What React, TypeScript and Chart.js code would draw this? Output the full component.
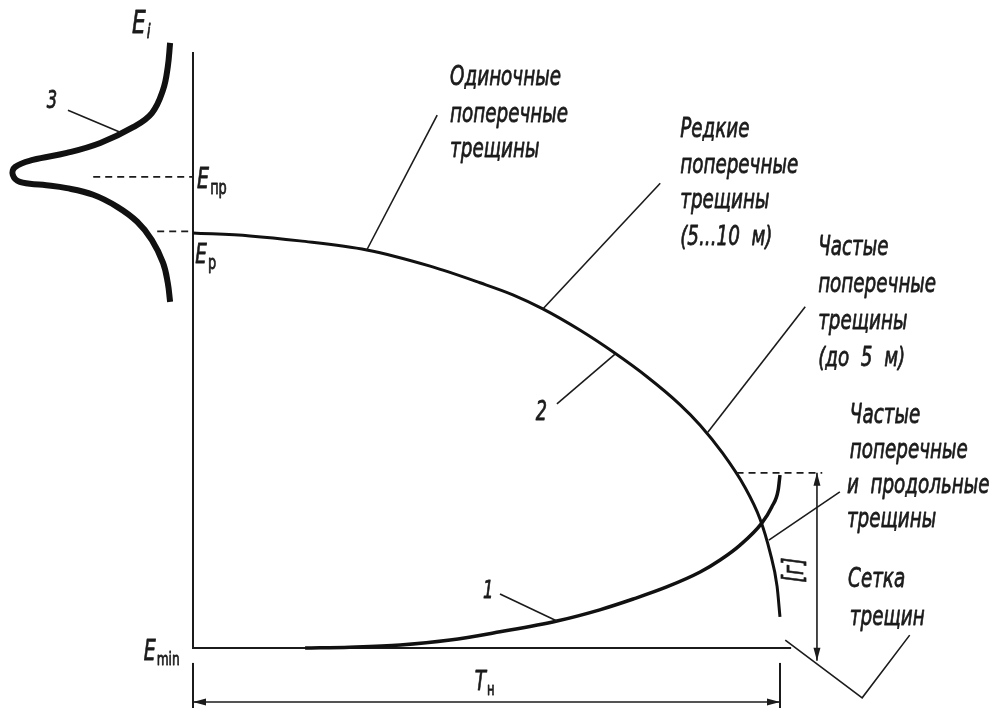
import React, { useEffect, useRef } from "react";
import { Chart, registerables } from "chart.js";

Chart.register(...registerables);

// Units: T in % of T_н (0..100), E in % of (E_p - E_min) above E_min.
// Curve 2 — strength decrease over service life
const curve2T = [0, 9.7, 18.2, 29.6, 40.4, 48.9, 54.5, 59.6, 65.9, 71.6, 77.4, 83.0, 86.4, 90.1, 94.0, 96.6, 98.3, 99.5, 100];
const curve2E = [100, 99.3, 98.1, 95.9, 92.0, 88.0, 85.1, 81.7, 76.6, 71.3, 65.3, 58.6, 53.7, 47.2, 38.8, 31.1, 23.1, 14.9, 7.5];

// Curve 1 — required level
const curve1T = [19.1, 26.7, 35.3, 43.8, 52.3, 62.0, 69.3, 75.0, 80.7, 86.4, 89.8, 93.2, 96.9, 98.6, 99.7, 100];
const curve1E = [0, 0.2, 0.7, 1.9, 3.9, 6.5, 9.2, 11.8, 14.7, 18.3, 21.2, 24.8, 30.1, 34.0, 38.1, 41.7];

// Curve 3 — distribution of initial strength E_i
const curve3T = [-3.9, -4.3, -5.1, -7.0, -10.2, -15.8, -21.5, -27.3, -30.3, -30.7, -29.5, -25.6, -21.5, -17.0, -12.9, -9.5, -7.0, -5.1, -4.3, -3.9];
const curve3E = [145.8, 140.0, 134.5, 128.9, 125.5, 121.7, 119.3, 117.6, 115.9, 114.0, 112.3, 111.6, 110.8, 109.2, 106.3, 102.7, 98.3, 92.8, 88.0, 83.4];

// Levels
const levelEnp = 113.5;
const levelEp = 100.4;
const levelLimit = 42.2;
const axisTop = 143.6;

const textLines1 = ["Одиночные", "поперечные", "трещины"];
const textLines2 = ["Редкие", "поперечные", "трещины", "(5...10  м)"];
const textLines3 = ["Частые", "поперечные", "трещины", "(до  5  м)"];
const textLines4 = ["Частые", "поперечные", "и  продольные", "трещины"];
const textLines5 = ["Сетка", "трещин"];

const toPts = (xs: number[], ys: number[]) => xs.map((x, i) => ({ x, y: ys[i] }));

const FONT = "'DejaVu Sans', 'Liberation Sans', sans-serif";
const INK = "#1b1b1b";

const annotPlugin = {
  id: "annot",
  beforeDatasetsDraw(chart: any) {
    const { ctx, scales } = chart;
    const X = (u: number) => scales.x.getPixelForValue(u);
    const Y = (v: number) => scales.y.getPixelForValue(v);
    ctx.save();
    ctx.strokeStyle = INK;
    ctx.lineCap = "butt";
    ctx.lineWidth = 2;
    ctx.beginPath();
    ctx.moveTo(X(0), Y(axisTop));
    ctx.lineTo(X(0), Y(0));
    ctx.lineTo(X(101.9), Y(0));
    ctx.stroke();
    ctx.restore();
  },
  afterDatasetsDraw(chart: any) {
    const { ctx, scales } = chart;
    const X = (u: number) => scales.x.getPixelForValue(u);
    const Y = (v: number) => scales.y.getPixelForValue(v);
    ctx.save();
    ctx.strokeStyle = INK;
    ctx.fillStyle = INK;

    const line = (pts: number[][], w = 1.6, dash: number[] = []) => {
      ctx.save();
      ctx.lineWidth = w;
      ctx.setLineDash(dash);
      ctx.beginPath();
      pts.forEach(([u, v], i) => (i ? ctx.lineTo(X(u), Y(v)) : ctx.moveTo(X(u), Y(v))));
      ctx.stroke();
      ctx.restore();
    };
    const arrow = (u: number, v: number, dx: number, dy: number) => {
      const x = X(u), y = Y(v);
      const L = 13, W = 3.5;
      const px = -dy, py = dx;
      ctx.beginPath();
      ctx.moveTo(x, y);
      ctx.lineTo(x - dx * L + px * W, y - dy * L + py * W);
      ctx.lineTo(x - dx * L - px * W, y - dy * L - py * W);
      ctx.closePath();
      ctx.fill();
    };

    ctx.font = `italic 27px ${FONT}`;
    const sx = 118 / ctx.measureText("поперечные").width;

    const draw = (s: string, x: number, y: number, size: number, style: string, align: CanvasTextAlign = "left") => {
      ctx.save();
      ctx.font = `${style} ${size}px ${FONT}`;
      ctx.textBaseline = "alphabetic";
      ctx.textAlign = align;
      ctx.translate(x, y);
      ctx.scale(sx, 1);
      ctx.lineWidth = 0.8;
      ctx.lineJoin = "round";
      ctx.fillText(s, 0, 0);
      ctx.strokeText(s, 0, 0);
      ctx.restore();
    };
    const text = (s: string, u: number, v: number, size: number) => draw(s, X(u), Y(v), size, "italic");
    const textW = (s: string, size: number, style = "italic") => {
      ctx.save();
      ctx.font = `${style} ${size}px ${FONT}`;
      const w = ctx.measureText(s).width * sx;
      ctx.restore();
      return w;
    };
    const subLabel = (main: string, sub: string, u: number, v: number, size: number, subSize: number, subDrop: number, subStyle = "normal") => {
      text(main, u, v, size);
      const w = textW(main, size);
      draw(sub, X(u) + w + 1, Y(v) + subDrop, subSize, subStyle);
    };

    // dashed levels
    line([[-17.0, levelEnp], [0, levelEnp]], 1.8, [7, 5]);
    line([[-6.1, levelEp], [0, levelEp]], 1.8, [7, 5]);
    line([[92.6, levelLimit], [107.2, levelLimit]], 1.8, [7, 5]);

    // extension lines for T_н
    line([[0, -3.6], [0, -14.5]], 2);
    line([[100, -3.6], [100, -14.5]], 2);
    // T_н dimension
    line([[0, -13.0], [100, -13.0]], 1.6);
    arrow(0, -13.0, -1, 0);
    arrow(100, -13.0, 1, 0);
    // [г] dimension
    line([[106.3, levelLimit], [106.3, -3.1]], 1.6);
    arrow(106.3, levelLimit, 0, -1);
    arrow(106.3, -3.1, 0, 1);

    // leaders
    line([[-21.3, 129.6], [-12.4, 124.3]]);
    line([[29.6, 95.9], [41.6, 128.4]]);
    line([[59.6, 81.7], [79.6, 112.0]]);
    line([[62.0, 58.8], [71.9, 70.8]]);
    line([[87.7, 52.0], [104.3, 82.2]]);
    line([[98.1, 26.0], [110.2, 37.6]]);
    line([[52.3, 13.0], [62.0, 6.5]]);
    line([[100.9, 1.9], [114.0, -12.0], [122.1, 3.1]]);

    // axis labels
    subLabel("E", "i", -10.4, 148.2, 32, 20, 5, "italic");
    subLabel("E", "пр", 0.7, 110.8, 28, 19, 6);
    subLabel("E", "р", 0.4, 92.8, 27, 19, 6);
    subLabel("E", "min", -8.4, -2.9, 28, 18, 5);
    subLabel("T", "н", 48.0, -10.1, 27, 17, 5);

    // numbers
    text("3", -24.9, 130.1, 24);
    text("2", 58.4, 54.9, 26);
    text("1", 49.4, 12.0, 24);

    // rotated [г]
    ctx.save();
    ctx.translate(X(102.6), Y(18.8));
    ctx.rotate(-Math.PI / 2);
    draw("[г]", 0, 8, 28, "italic", "center");
    ctx.restore();

    // text blocks
    const block = (lines: string[], vs: number[], us: number[]) =>
      lines.forEach((s, i) => text(s, us[i], vs[i], 27));
    block(textLines1, [135.7, 126.7, 118.3], [43.8, 43.8, 43.8]);
    block(textLines2, [123.1, 114.5, 106.0, 97.1], [83.0, 83.0, 83.0, 83.0]);
    block(textLines3, [94.7, 85.8, 76.9, 68.0], [106.5, 106.5, 106.5, 106.5]);
    block(textLines4, [54.2, 45.8, 37.3, 29.2], [111.9, 111.9, 111.4, 111.4]);
    block(textLines5, [14.7, 5.5], [111.6, 111.9]);

    ctx.restore();
  },
};

export default function App() {
  const ref = useRef<HTMLCanvasElement | null>(null);
  useEffect(() => {
    document.body.style.margin = "0";
    const canvas = ref.current;
    if (!canvas) return;
    const common = {
      showLine: true,
      pointRadius: 0,
      pointHoverRadius: 0,
      borderColor: "#111",
      fill: false,
      borderCapStyle: "butt" as const,
    };
    const chart = new Chart(canvas, {
      type: "scatter",
      data: {
        datasets: [
          { ...common, label: "2", data: toPts(curve2T, curve2E), borderWidth: 3, cubicInterpolationMode: "monotone" },
          { ...common, label: "1", data: toPts(curve1T, curve1E), borderWidth: 3.5, cubicInterpolationMode: "monotone" },
          { ...common, label: "3", data: toPts(curve3T, curve3E), borderWidth: 6, tension: 0.4 },
        ],
      },
      options: {
        animation: false,
        responsive: false,
        maintainAspectRatio: false,
        devicePixelRatio: 1,
        layout: { padding: 0 },
        plugins: { legend: { display: false }, tooltip: { enabled: false } },
        events: [],
        scales: {
          x: { type: "linear", display: false, min: -32.88, max: 135.95 },
          y: { type: "linear", display: false, min: -14.46, max: 156.14 },
        },
      },
      plugins: [annotPlugin],
    });
    return () => chart.destroy();
  }, []);
  return (
    <div style={{ width: 991, height: 708, background: "#fff" }}>
      <canvas ref={ref} width={991} height={708} style={{ display: "block" }} />
    </div>
  );
}
